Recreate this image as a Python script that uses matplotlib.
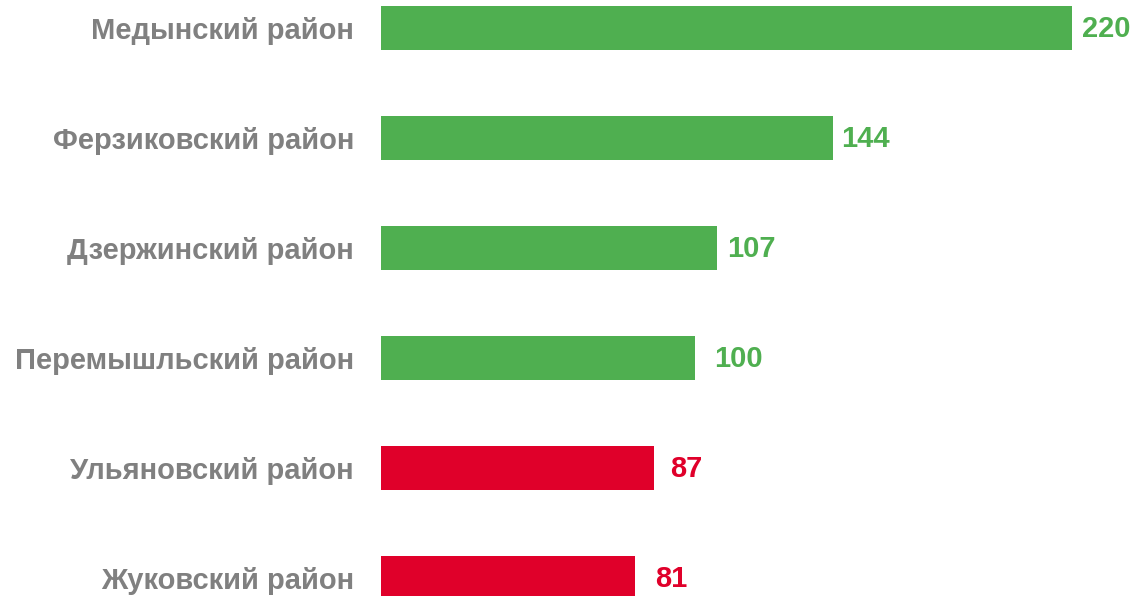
import matplotlib.pyplot as plt

# Данные
districts = ["Медынский район", "Ферзиковский район", "Дзержинский район",
             "Перемышльский район", "Ульяновский район", "Жуковский район"]
values = [220, 144, 107, 100, 87, 81]

green = '#4FAF50'
red = '#E0002A'
colors = [green if v >= 100 else red for v in values]
pads = [10, 8, 10, 19, 16, 20]  # отступ подписи от конца столбца, px

plt.rcParams['font.family'] = ['Liberation Sans', 'DejaVu Sans']

fig = plt.figure(figsize=(11.36, 5.96), dpi=100)
ax = fig.add_axes([381 / 1136, 0, 1 - 381 / 1136, 1])

y = range(len(districts))
ax.barh(y, values, height=0.4, color=colors)

ax.set_xlim(0, 755 / 3.14)
ax.set_ylim(5 + 18 / 110, -28 / 110)

for i, (v, c, p) in enumerate(zip(values, colors, pads)):
    ax.annotate(str(v), (v, i), xytext=(p * 0.72, -1), textcoords='offset points',
                va='center', ha='left', color=c, fontsize=21, fontweight='bold')

ax.set_yticks(list(y))
ax.set_yticklabels(districts, fontsize=21, fontweight='bold', color='#808080')
ax.tick_params(axis='y', length=0, pad=19.5)
ax.set_xticks([])
for s in ax.spines.values():
    s.set_visible(False)

plt.savefig("out.png", dpi=100)
